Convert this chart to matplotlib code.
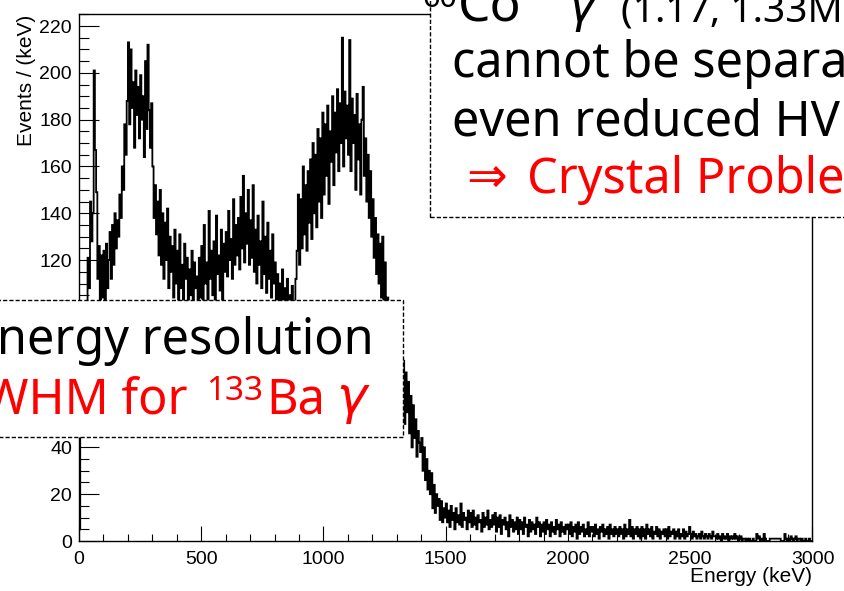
import numpy as np
import matplotlib
matplotlib.use("Agg")
import matplotlib.pyplot as plt
from matplotlib.patches import Rectangle
from matplotlib.ticker import MultipleLocator

# Germanium detector spectrum, counts per 5 keV bin (Events / keV)
bin_width = 5
counts = [
    5, 50, 72, 85, 92, 98, 101, 121, 108, 145, 128, 140, 201, 167, 149, 112, 126, 98, 122, 104,
    124, 101, 127, 108, 120, 132, 112, 135, 118, 140, 125, 137, 130, 148, 138, 160, 150, 178, 165, 188,
    213, 178, 210, 185, 196, 168, 201, 182, 194, 172, 199, 180, 190, 164, 205, 176, 212, 184, 168, 187,
    160, 138, 152, 131, 145, 122, 150, 118, 140, 112, 136, 120, 142, 108, 130, 115, 126, 104, 133, 110,
    124, 100, 131, 108, 118, 97, 127, 112, 121, 99, 116, 105, 124, 94, 119, 108, 113, 98, 121, 104,
    126, 102, 135, 110, 119, 98, 141, 112, 124, 105, 128, 100, 139, 114, 122, 107, 133, 101, 127, 115,
    132, 113, 141, 120, 129, 112, 146, 118, 135, 122, 138, 116, 147, 125, 156, 119, 140, 127, 150, 118,
    137, 121, 152, 115, 133, 110, 139, 118, 128, 108, 145, 114, 130, 106, 136, 112, 124, 104, 131, 110,
    119, 100, 114, 96, 110, 98, 116, 94, 108, 97, 112, 92, 105, 95, 109, 90, 101, 112, 124, 148,
    118, 146, 125, 160, 131, 152, 124, 158, 136, 163, 129, 170, 140, 165, 134, 176, 145, 172, 138, 183,
    148, 178, 156, 186, 144, 175, 162, 190, 152, 183, 166, 193, 158, 187, 170, 215, 160, 192, 172, 186,
    165, 214, 158, 189, 170, 182, 150, 191, 163, 178, 148, 180, 194, 156, 172, 145, 165, 138, 158, 130,
    146, 121, 138, 114, 131, 110, 127, 104, 130, 98, 119, 94, 104, 90, 98, 86, 94, 82, 88, 79,
    82, 70, 78, 66, 74, 77, 50, 72, 55, 68, 46, 62, 40, 58, 44, 52, 36, 47, 42, 38,
    44, 30, 40, 26, 35, 22, 30, 20, 29, 14, 24, 12, 20, 15, 18, 9, 17, 8, 14, 10,
    16, 8, 13, 6, 15, 9, 12, 5, 14, 8, 11, 7, 16, 6, 12, 9, 10, 5, 13, 8,
    12, 6, 13, 7, 10, 5, 11, 8, 9, 4, 12, 6, 10, 7, 13, 5, 9, 6, 11, 7,
    12, 4, 10, 6, 11, 3, 9, 7, 10, 5, 8, 2, 11, 6, 9, 4, 8, 5, 10, 3,
    9, 5, 8, 3, 10, 6, 7, 2, 9, 4, 8, 5, 7, 3, 10, 6, 8, 2, 7, 4,
    8, 3, 9, 5, 7, 2, 8, 4, 6, 3, 9, 5, 7, 2, 8, 4, 6, 3, 7, 5,
    7, 3, 8, 2, 6, 4, 7, 1, 8, 3, 6, 4, 7, 2, 5, 3, 8, 2, 6, 4,
    6, 2, 7, 3, 5, 1, 6, 4, 7, 2, 5, 3, 6, 1, 7, 3, 5, 2, 6, 3,
    5, 2, 6, 3, 5, 1, 7, 2, 5, 3, 9, 2, 6, 1, 5, 3, 6, 2, 5, 1,
    6, 2, 5, 1, 7, 3, 5, 2, 6, 1, 4, 3, 6, 2, 5, 1, 4, 3, 5, 2,
    5, 1, 6, 2, 4, 3, 5, 1, 4, 2, 5, 1, 3, 2, 5, 1, 4, 2, 3, 6,
    3, 1, 4, 2, 3, 1, 2, 3, 1, 4, 2, 1, 3, 2, 1, 3, 2, 1, 4, 2,
    2, 1, 3, 1, 2, 0, 3, 1, 2, 1, 3, 0, 2, 1, 2, 1, 3, 1, 2, 0,
    1, 2, 0, 1, 1, 0, 1, 0, 1, 0, 0, 1, 0, 0, 3, 1, 2, 0, 1, 0,
    3, 1, 0, 0, 0, 1, 1, 1, 1, 1, 1, 1, 1, 1, 0, 0, 0, 3, 1, 0,
    1, 0, 2, 1, 0, 1, 2, 0, 1, 1, 0, 1, 0, 0, 1, 0, 0, 1, 0, 0,
]
x_ticks = [0, 500, 1000, 1500, 2000, 2500, 3000]
y_ticks = [0, 20, 40, 60, 80, 100, 120, 140, 160, 180, 200, 220]
x_label = "Energy (keV)"
y_label = "Events / (keV)"

edges = np.arange(len(counts) + 1) * bin_width

W, H = 845, 591
fig = plt.figure(figsize=(W / 100, H / 100), dpi=100)


def fx(x):
    return x / W


def fy(y):
    return 1 - y / H


tick_font = "Liberation Sans"
note_font = ["Noto Sans", "DejaVu Sans"]

ax = fig.add_axes([fx(79), fy(541), fx(812.5) - fx(79), fy(14.3) - fy(541)])
ax.stairs(counts, edges, color="black", lw=1.3)
ax.set_xlim(0, 3000)
ax.set_ylim(0, 225)
ax.set_xticks(x_ticks)
ax.set_yticks(y_ticks)
ax.xaxis.set_minor_locator(MultipleLocator(100))
ax.yaxis.set_minor_locator(MultipleLocator(5))
ax.tick_params(which="both", direction="in", top=False, right=False, width=0.8,
               labelsize=14)
ax.tick_params(axis="y", which="major", length=14.4, pad=5)
ax.tick_params(axis="y", which="minor", length=7.2)
ax.tick_params(axis="x", which="major", length=10.8, pad=7.2)
ax.tick_params(axis="x", which="minor", length=5.4)
for lab in ax.get_xticklabels() + ax.get_yticklabels():
    lab.set_fontfamily(tick_font)
for sp in ax.spines.values():
    sp.set_linewidth(1.0)

fig.text(fx(27), fy(15), y_label, rotation=90, ha="center", va="top",
         fontsize=15, family=tick_font)
fig.text(fx(812), fy(582), x_label, ha="right", va="baseline",
         fontsize=15, family=tick_font)

dash = (0, (3, 1.5))
big = 35

# upper-right note box
fig.add_artist(Rectangle((fx(430), fy(216.5)), fx(870) - fx(430), fy(-20) - fy(216.5),
                         transform=fig.transFigure, facecolor="white",
                         edgecolor="black", lw=1.0, linestyle=dash, zorder=5))
fig.text(fx(457), fy(7), "60", fontsize=22, family=note_font, ha="right",
         va="baseline", zorder=6)
fig.text(fx(458), fy(22), "Co", fontsize=big + 2, family=note_font, va="baseline", zorder=6)
fig.text(fx(566), fy(22), r"$\gamma$", fontsize=big, va="baseline", zorder=6)
fig.text(fx(621), fy(22), "(1.17, 1.33MeV)", fontsize=28, family=note_font,
         va="baseline", zorder=6)
fig.text(fx(452), fy(77), "cannot be separated", fontsize=big, family=note_font,
         va="baseline", zorder=6)
fig.text(fx(452), fy(135), "even reduced HV", fontsize=big, family=note_font,
         va="baseline", zorder=6)
fig.text(fx(466), fy(193), "\u21d2", fontsize=big, family=note_font, color="red",
         va="baseline", zorder=6)
fig.text(fx(527), fy(193), "Crystal Problem", fontsize=big, family=note_font,
         color="red", va="baseline", zorder=6)

# lower-left note box
fig.add_artist(Rectangle((fx(-20), fy(436.5)), fx(403.5) - fx(-20), fy(300) - fy(436.5),
                         transform=fig.transFigure, facecolor="white",
                         edgecolor="black", lw=1.0, linestyle=dash, zorder=5))
fig.text(fx(374), fy(354), "Bad energy resolution", fontsize=big, family=note_font,
         ha="right", va="baseline", zorder=6)
fig.text(fx(188), fy(413), "FWHM for", fontsize=big, family=note_font, color="red",
         ha="right", va="baseline", zorder=6)
fig.text(fx(206), fy(400), "133", fontsize=24, family=note_font, color="red",
         va="baseline", zorder=6)
fig.text(fx(266), fy(413), "Ba", fontsize=big, family=note_font, color="red",
         va="baseline", zorder=6)
fig.text(fx(336), fy(413), r"$\gamma$", fontsize=big + 2, color="red",
         va="baseline", zorder=6)

fig.savefig("out.png", dpi=100)
